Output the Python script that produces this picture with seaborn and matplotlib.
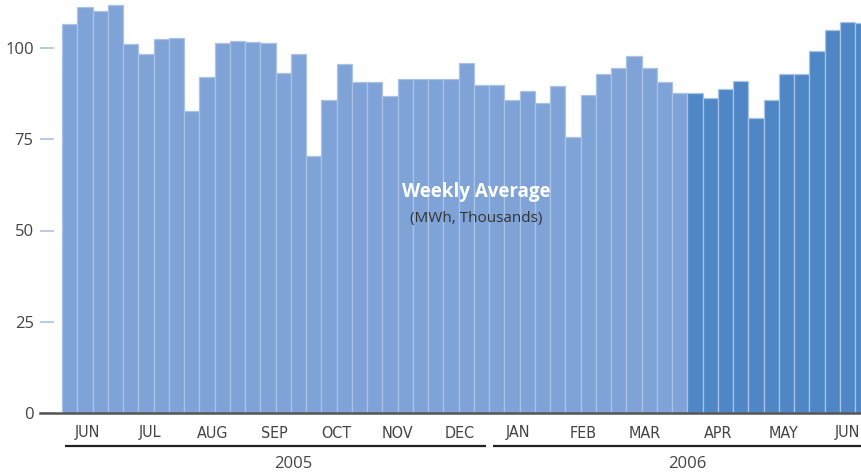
import matplotlib
matplotlib.use("Agg")
import matplotlib.pyplot as plt
import seaborn as sns
import pandas as pd
import numpy as np

# ---- data ----
values_2005_06 = [106.6, 111.1, 110.1, 111.8, 101.2, 98.4, 102.5, 102.7, 82.7, 92.1,
                  101.4, 101.8, 101.6, 101.4, 93.2, 98.4, 70.4, 85.8, 95.6, 90.6,
                  90.6, 86.9, 91.4, 91.4, 91.4, 91.4, 95.9, 89.9, 89.9, 85.8,
                  88.3, 85.0, 89.5, 75.6, 87.0, 93.0, 94.6, 97.8, 94.6, 90.6,
                  87.7]
values_recent = [87.8, 86.3, 88.7, 90.9, 80.8, 85.8, 93.0, 93.0, 99.2, 105.0,
                 107.0, 106.8]
month_labels = ["JUN", "JUL", "AUG", "SEP", "OCT", "NOV", "DEC",
                "JAN", "FEB", "MAR", "APR", "MAY", "JUN"]
year_labels = ["2005", "2006"]
y_ticks = [0, 25, 50, 75, 100]

# ---- layout ----
month_pos = [1.2, 5.3, 9.35, 13.4, 17.5, 21.5, 25.6, 29.4, 33.7, 37.7, 42.5, 46.8, 51.0]
year_spans = [(-0.3, 27.3), (27.75, 52.5)]
year_text_x = [14.65, 40.5]

light = "#7fa3d6"
dark = "#4f87c6"
edge = "#a9c2e6"

values = values_2005_06 + values_recent
df = pd.DataFrame({
    "week": [f"w{i:02d}" for i in range(len(values))],
    "value": values,
    "period": ["past"] * len(values_2005_06) + ["recent"] * len(values_recent),
})

sns.set_theme(style="white")
plt.rcParams["font.family"] = ["Open Sans", "DejaVu Sans"]

W, H = 862, 472
fig = plt.figure(figsize=(W / 100, H / 100), dpi=100)
ax = fig.add_axes([40 / W, (H - 413) / H, 822 / W, 413 / H])

sns.barplot(data=df, x="week", y="value", hue="period",
            palette={"past": light, "recent": dark}, dodge=False, width=1.0,
            legend=False, edgecolor=edge, linewidth=0.9, saturation=1, ax=ax)

bw = 15.25
xl = -0.5 - 22 / bw
ax.set_xlim(xl, xl + 822 / bw)
ax.set_ylim(0, 413 / 3.65)

for s in ["top", "right", "left"]:
    ax.spines[s].set_visible(False)
ax.spines["bottom"].set_color("#555555")
ax.spines["bottom"].set_linewidth(1.8)
ax.spines["bottom"].set_zorder(5)

ax.set_yticks(y_ticks)
ax.set_yticklabels([str(t) for t in y_ticks])
ax.tick_params(axis="y", direction="in", length=10, width=1.2, color="#a9c2e6",
               pad=4.5, labelsize=12, labelcolor="#444444", left=True)

ax.set_xticks(month_pos)
ax.set_xticklabels(month_labels, family=["DejaVu Sans"], fontstretch="condensed",
                   fontsize=11.5, color="#444444")
ax.tick_params(axis="x", length=0, pad=9)
ax.set_xlabel("")
ax.set_ylabel("")
ax.grid(False)

trans = ax.get_xaxis_transform()
for (x0, x1), lbl, tx in zip(year_spans, year_labels, year_text_x):
    ax.plot([x0, x1], [-0.080, -0.080], transform=trans, color="#222222",
            lw=1.6, clip_on=False, solid_capstyle="butt")
    ax.text(tx, -0.124, lbl, transform=trans, ha="center", va="center",
            fontsize=12, color="#444444")

ax.text(26.65, 60.5, "Weekly Average", ha="center", va="center",
        fontsize=13.5, fontweight="bold", color="white")
ax.text(26.65, 53.4, "(MWh, Thousands)", ha="center", va="center",
        fontsize=11, color="#333333")

fig.savefig("out.png", dpi=100)
